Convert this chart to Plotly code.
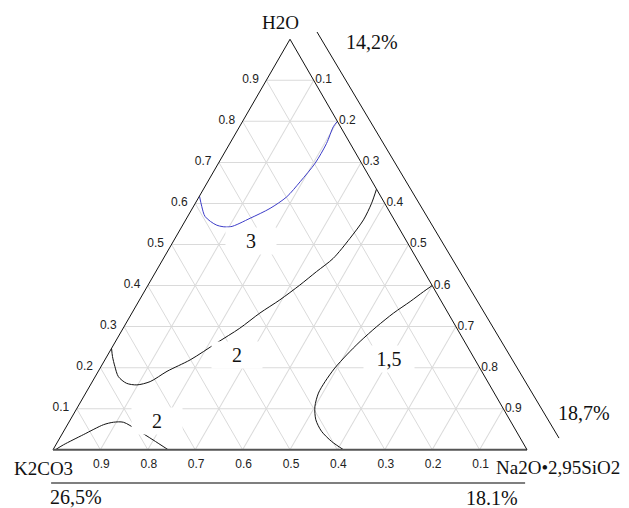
import plotly.graph_objects as go

# Ternary components: a = H2O, b = K2CO3, c = Na2O*2.95SiO2 (fractions)
tick_vals = [0.1, 0.2, 0.3, 0.4, 0.5, 0.6, 0.7, 0.8, 0.9]
tick_text = ["0.1", "0.2", "0.3", "0.4", "0.5", "0.6", "0.7", "0.8", "0.9"]

# contour "3" (blue)
c3_h2o = [0.800, 0.787, 0.746, 0.698, 0.653, 0.616, 0.588, 0.564, 0.543, 0.547, 0.568, 0.592, 0.618]
c3_k2co3 = [0.000, 0.015, 0.050, 0.098, 0.152, 0.199, 0.248, 0.302, 0.355, 0.381, 0.395, 0.390, 0.382]
c3_na2o = [0.200, 0.198, 0.204, 0.204, 0.195, 0.185, 0.164, 0.134, 0.102, 0.072, 0.037, 0.018, 0.000]

# contour "2" (upper)
c2a_h2o = [0.635, 0.600, 0.560, 0.515, 0.466, 0.434, 0.401, 0.365, 0.333, 0.296, 0.260, 0.219, 0.191,
           0.166, 0.158, 0.162, 0.178, 0.203, 0.227, 0.247]
c2a_k2co3 = [0.000, 0.028, 0.065, 0.116, 0.176, 0.227, 0.279, 0.339, 0.397, 0.458, 0.525, 0.601, 0.664,
             0.712, 0.744, 0.764, 0.773, 0.768, 0.761, 0.753]
c2a_na2o = [0.365, 0.372, 0.375, 0.369, 0.358, 0.339, 0.320, 0.296, 0.270, 0.246, 0.215, 0.180, 0.145,
            0.122, 0.098, 0.074, 0.049, 0.029, 0.012, 0.000]

# contour "2" (lower)
c2b_h2o = [0.000, 0.012, 0.037, 0.061, 0.067, 0.067, 0.049, 0.024, 0.000]
c2b_k2co3 = [0.995, 0.972, 0.917, 0.863, 0.839, 0.818, 0.799, 0.777, 0.757]
c2b_na2o = [0.005, 0.016, 0.046, 0.076, 0.094, 0.115, 0.152, 0.199, 0.243]

# contour "1,5"
c15_h2o = [0.400, 0.385, 0.361, 0.333, 0.300, 0.264, 0.231, 0.199, 0.166, 0.138, 0.105, 0.073, 0.045,
           0.020, 0.000]
c15_k2co3 = [0.000, 0.026, 0.066, 0.115, 0.167, 0.220, 0.265, 0.306, 0.343, 0.371, 0.395, 0.409, 0.411,
             0.402, 0.387]
c15_na2o = [0.600, 0.589, 0.573, 0.552, 0.533, 0.516, 0.504, 0.495, 0.491, 0.491, 0.500, 0.518, 0.544,
            0.578, 0.613]

contour_labels = ["3", "2", "2", "1,5"]
vertex_labels = ["H2O", "K2CO3", "Na2O•2,95SiO2"]
pct_labels = ["14,2%", "18,7%", "26,5%", "18.1%"]

SERIF = "Liberation Serif, Times New Roman, serif"
SANS = "Liberation Sans, Arial, sans-serif"

fig = go.Figure()
series = [
    (c3_h2o, c3_k2co3, c3_na2o, "#3c3cc8"),
    (c2a_h2o, c2a_k2co3, c2a_na2o, "#111111"),
    (c2b_h2o, c2b_k2co3, c2b_na2o, "#111111"),
    (c15_h2o, c15_k2co3, c15_na2o, "#111111"),
]
for a, b, c, col in series:
    fig.add_trace(go.Scatterternary(
        a=a, b=b, c=c, mode="lines",
        line=dict(color=col, width=1, shape="spline", smoothing=0.8),
        hoverinfo="skip", showlegend=False,
    ))


def axis(linecolor, linewidth, ticklen):
    return dict(
        tickmode="array", tickvals=tick_vals, ticktext=tick_text,
        ticks="outside" if ticklen else "", ticklen=ticklen,
        tickcolor="rgba(0,0,0,0)",
        tickfont=dict(family=SANS, size=12, color="#222"),
        showgrid=True, gridcolor="#dadada", gridwidth=1,
        showline=True, linecolor=linecolor, linewidth=linewidth,
        title=dict(text=""), min=0,
    )


# the page body adds an 8px offset, so the figure is 8px smaller than the window
fig.update_layout(
    width=621, height=500,
    margin=dict(l=45, r=102, t=31, b=58),
    paper_bgcolor="white",
    ternary=dict(
        sum=1,
        domain=dict(x=[0, 1], y=[0, 1]),
        bgcolor="white",
        aaxis=axis("#111", 1, 5),
        baxis=axis("#555", 2, 2),
        caxis=axis("#111", 1, 0),
    ),
)

shapes = [
    dict(type="line", xref="paper", yref="paper", x0=0.557, y0=1.017, x1=1.0675, y1=0.029,
         line=dict(color="#111", width=1)),
    dict(type="line", xref="paper", yref="paper", x0=-0.004, y0=-0.080, x1=0.996, y1=-0.080,
         line=dict(color="#555", width=1.5)),
]
fig.update_layout(shapes=shapes)

ann = []
# contour labels with white boxes
label_pos = [(0.4177, 0.5085), (0.388, 0.2311), (0.2194, 0.0706), (0.7089, 0.2214)]
for t, (x, y) in zip(contour_labels, label_pos):
    ann.append(dict(text=t, x=x, y=y, xref="paper", yref="paper", showarrow=False,
                    xanchor="center", yanchor="middle", bgcolor="white",
                    width=48, height=24,
                    font=dict(family=SERIF, size=20, color="#111")))
vpos = [(0.479, 1.039), (-0.021, -0.0438), (1.0654, -0.0414)]
for t, (x, y) in zip(vertex_labels, vpos):
    ann.append(dict(text=t, x=x, y=y, xref="paper", yref="paper", showarrow=False,
                    xanchor="center", yanchor="middle",
                    font=dict(family=SERIF, size=19, color="#111")))
ppos = [(0.673, 0.9927), (1.1203, 0.09), (0.0485, -0.1144), (0.926, -0.1168)]
for t, (x, y) in zip(pct_labels, ppos):
    ann.append(dict(text=t, x=x, y=y, xref="paper", yref="paper", showarrow=False,
                    xanchor="center", yanchor="middle",
                    font=dict(family=SERIF, size=20, color="#111")))
fig.update_layout(annotations=ann)

fig.write_html("out.html", config=dict(displayModeBar=False))
